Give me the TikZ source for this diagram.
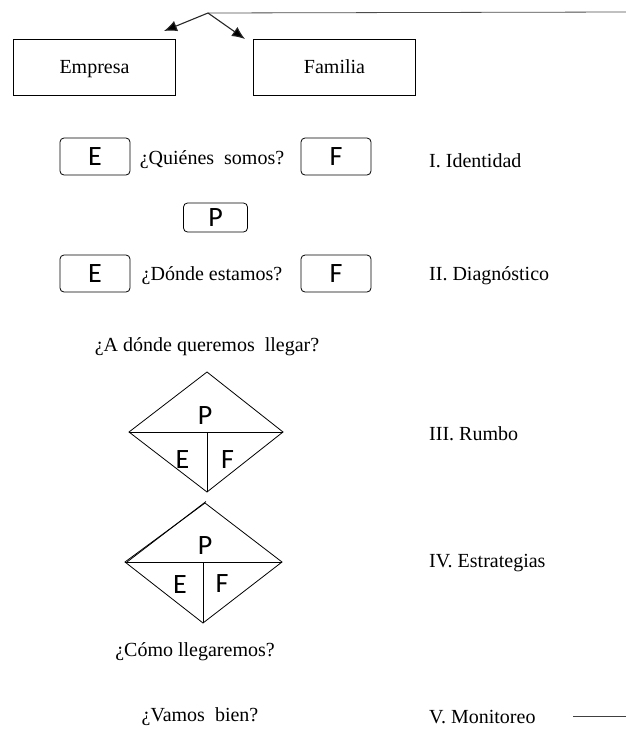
\documentclass[tikz,border=0pt]{standalone}
\usepackage{fontspec}
\setmainfont{Liberation Serif}
\newfontfamily\letterfont{Carlito}
\usetikzlibrary{arrows.meta}
\tikzset{
  txt/.style={inner sep=0pt, font=\fontsize{20}{24}\selectfont},
  box/.style={draw, thick, minimum width=162pt, minimum height=56pt, inner sep=0pt,
    text height=13pt, text depth=1pt, font=\fontsize{20}{24}\selectfont},
  letterbox/.style={draw, thick, rounded corners=4pt, minimum width=70pt, minimum height=37pt, inner sep=0pt, font=\letterfont\fontsize{28}{30}\selectfont},
  smallbox/.style={letterbox, minimum width=64pt, minimum height=29pt},
  letter/.style={inner sep=0pt, font=\letterfont\fontsize{28}{30}\selectfont},
  edge/.style={thick},
  arr/.style={line width=1.1pt, draw=black!85, -{Latex[length=13pt,width=11pt,fill=black]}},
}
\begin{document}
\begin{tikzpicture}[x=1pt,y=-1pt]
\useasboundingbox (0,0) rectangle (626,729);

% top bar and branches
\coordinate (split) at (208,13);
\coordinate (barend) at (626,12);
\draw[thick, draw=black!70] (split) -- (barend);
\node[box] (empresa) at (94.5,67.5) {Empresa};
\node[box] (familia) at (334.5,67.5) {Familia};
\coordinate (toE) at (164,31);
\coordinate (toF) at (245,39);
\draw[arr] (split) -- (toE);
\draw[arr] (split) -- (toF);

% I. Identidad
\node[letterbox] (e1) at (95,156.5) {E};
\node[txt] (q1) at (212,160) {¿Quiénes\ \ somos?};
\node[letterbox] (f1) at (336,156.5) {F};
\node[txt, anchor=west] (l1) at (429,161) {I. Identidad};

\node[smallbox] (p1) at (215.5,217.5) {P};

% II. Diagnostico
\node[letterbox] (e2) at (95,273.5) {E};
\node[txt] (q2) at (212,276) {¿Dónde estamos?};
\node[letterbox] (f2) at (336,273.5) {F};
\node[txt, anchor=west] (l2) at (429,276) {II. Diagnóstico};

\node[txt] (q3) at (207,347) {¿A dónde queremos\ \ llegar?};

% III. Rumbo diamond
\coordinate (d1t) at (207,372);
\coordinate (d1l) at (129,432);
\coordinate (d1r) at (283,432);
\coordinate (d1b) at (207,492);
\draw[edge] (d1t) -- (d1r) -- (d1b) -- (d1l) -- cycle;
\draw[edge] (d1l) -- (d1r);
\draw[edge] (207,432) -- (d1b);
\node[letter] (p2) at (205,416) {P};
\node[letter] (e3) at (182.5,460) {E};
\node[letter] (f3) at (227.5,460) {F};
\node[txt, anchor=west] (l3) at (429,434) {III. Rumbo};

% IV. Estrategias diamond
\coordinate (d2t) at (205,503);
\coordinate (d2l) at (125,562);
\coordinate (d2r) at (282,562);
\coordinate (d2b) at (203,623);
\draw[edge] (d2t) -- (d2r) -- (d2b) -- (d2l) -- cycle;
\draw[edge] ([xshift=2pt]d2l) -- ([xshift=1pt,yshift=1.5pt]d2t);
\draw[edge] (d2l) -- (d2r);
\draw[edge] (203,562) -- (d2b);
\node[letter] (p3) at (205,546) {P};
\node[letter] (e4) at (180,585) {E};
\node[letter] (f4) at (222,584) {F};
\node[txt, anchor=west] (l4) at (429,563) {IV. Estrategias};

\node[txt] (q4) at (195,652) {¿Cómo llegaremos?};

% V. Monitoreo
\node[txt] (q5) at (200,717) {¿Vamos\ \ bien?};
\node[txt, anchor=west] (l5) at (429,717) {V. Monitoreo};
\coordinate (mstart) at (573,716);
\coordinate (mend) at (626,716);
\draw[thick, draw=black!75] (mstart) -- (mend);
\end{tikzpicture}
\end{document}
